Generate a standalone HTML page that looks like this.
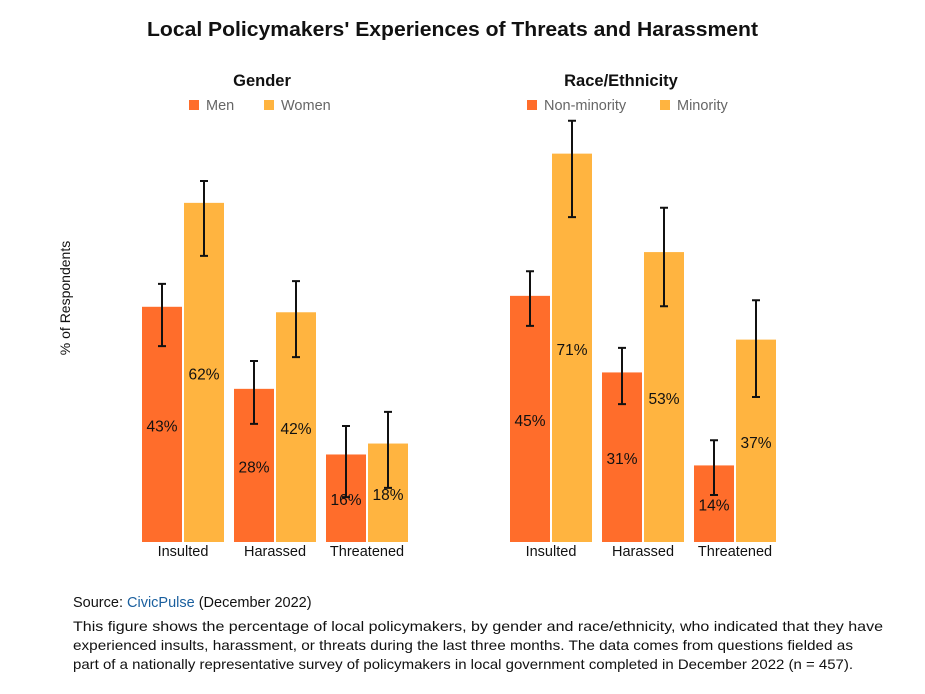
<!DOCTYPE html>
<html><head><meta charset="utf-8"><style>
body{margin:0;background:#fff;width:925px;height:694px;overflow:hidden;font-family:"Liberation Sans",sans-serif;}
svg text{font-family:"Liberation Sans",sans-serif;}
</style></head><body>
<svg id="chart" width="925" height="694" style="position:absolute;left:0;top:0">
<text x="147" y="36" textLength="611" lengthAdjust="spacingAndGlyphs" font-size="20" font-weight="bold" fill="#111">Local Policymakers' Experiences of Threats and Harassment</text>
<text transform="translate(70,298) rotate(-90)" text-anchor="middle" font-size="14" fill="#111">% of Respondents</text>
<g id="plot"></g>
<text x="73" y="607" font-size="14.5" fill="#111">Source: <tspan fill="#1a5f9e">CivicPulse</tspan> (December 2022)</text>
<g font-size="14" fill="#111">
<text x="73" y="631" textLength="810" lengthAdjust="spacingAndGlyphs">This figure shows the percentage of local policymakers, by gender and race/ethnicity, who indicated that they have</text>
<text x="73" y="650" textLength="780" lengthAdjust="spacingAndGlyphs">experienced insults, harassment, or threats during the last three months. The data comes from questions fielded as</text>
<text x="73" y="669" textLength="780" lengthAdjust="spacingAndGlyphs">part of a nationally representative survey of policymakers in local government completed in December 2022 (n = 457).</text>
</g>
</svg>
<script>
const categories=["Insulted","Harassed","Threatened"];
const panelTitles=["Gender","Race/Ethnicity"];
const seriesNames=[["Men","Women"],["Non-minority","Minority"]];
const genderA=[43,28,16];
const genderB=[62,42,18];
const raceA=[45,31,14];
const raceB=[71,53,37];
const genderALo=[35.8,21.6,8.2], genderAHi=[47.2,33.1,21.2];
const genderBLo=[52.3,33.8,9.9], genderBHi=[66.0,47.7,23.8];
const raceALo=[39.5,25.2,8.6], raceAHi=[49.5,35.5,18.6];
const raceBLo=[59.4,43.1,26.5], raceBHi=[77.0,61.1,44.2];

const NS="http://www.w3.org/2000/svg";
const g=document.getElementById('plot');
const base=542, scale=5.47;
const y=v=>base-v*scale;
const cols=["#FF6D2B","#FFB440"];
function mk(t,a){const e=document.createElementNS(NS,t);for(const k in a)e.setAttribute(k,a[k]);g.appendChild(e);return e;}
const panels=[
 {x0:142,tx:262,lx:[189,264],A:genderA,B:genderB,lo:[genderALo,genderBLo],hi:[genderAHi,genderBHi]},
 {x0:510,tx:621,lx:[527,660],A:raceA,B:raceB,lo:[raceALo,raceBLo],hi:[raceAHi,raceBHi]}];
panels.forEach((p,pi)=>{
 const t=mk('text',{x:p.tx,y:86,'text-anchor':'middle','font-size':16.5,'font-weight':'bold',fill:'#111'});
 t.textContent=panelTitles[pi];
 
 
 seriesNames[pi].forEach((n,si)=>{
  const r=mk('rect',{x:p.lx[si],y:100,width:10,height:10,fill:cols[si]});
  
  
  const tt=mk('text',{x:p.lx[si]+17,y:110,'font-size':14.5,fill:'#666'});
  tt.textContent=n;
  
  
 });
 categories.forEach((c,ci)=>{
  const gx=p.x0+ci*92;
  [p.A,p.B].forEach((arr,si)=>{
   const v=arr[ci], bx=gx+si*42;
   const r=mk('rect',{x:bx,y:y(v),width:40,height:base-y(v),fill:cols[si]});
   
   
   const lo=p.lo[si][ci], hi=p.hi[si][ci], ex=bx+20;
   const eb=mk('path',{d:`M${ex},${y(hi)}V${y(lo)}M${ex-4},${y(hi)}H${ex+4}M${ex-4},${y(lo)}H${ex+4}`,stroke:'#111','stroke-width':2,fill:'none'});
   
   
   const lb=mk('text',{x:bx+20,y:(y(v)+base)/2+7,'text-anchor':'middle','font-size':15.5,fill:'#111'});
   lb.textContent=v+'%';
   
   
  });
  const cl=mk('text',{x:gx+41,y:556,'text-anchor':'middle','font-size':14.5,fill:'#111'});
  cl.textContent=c;
  
  
 });
});
</script>
</body></html>
